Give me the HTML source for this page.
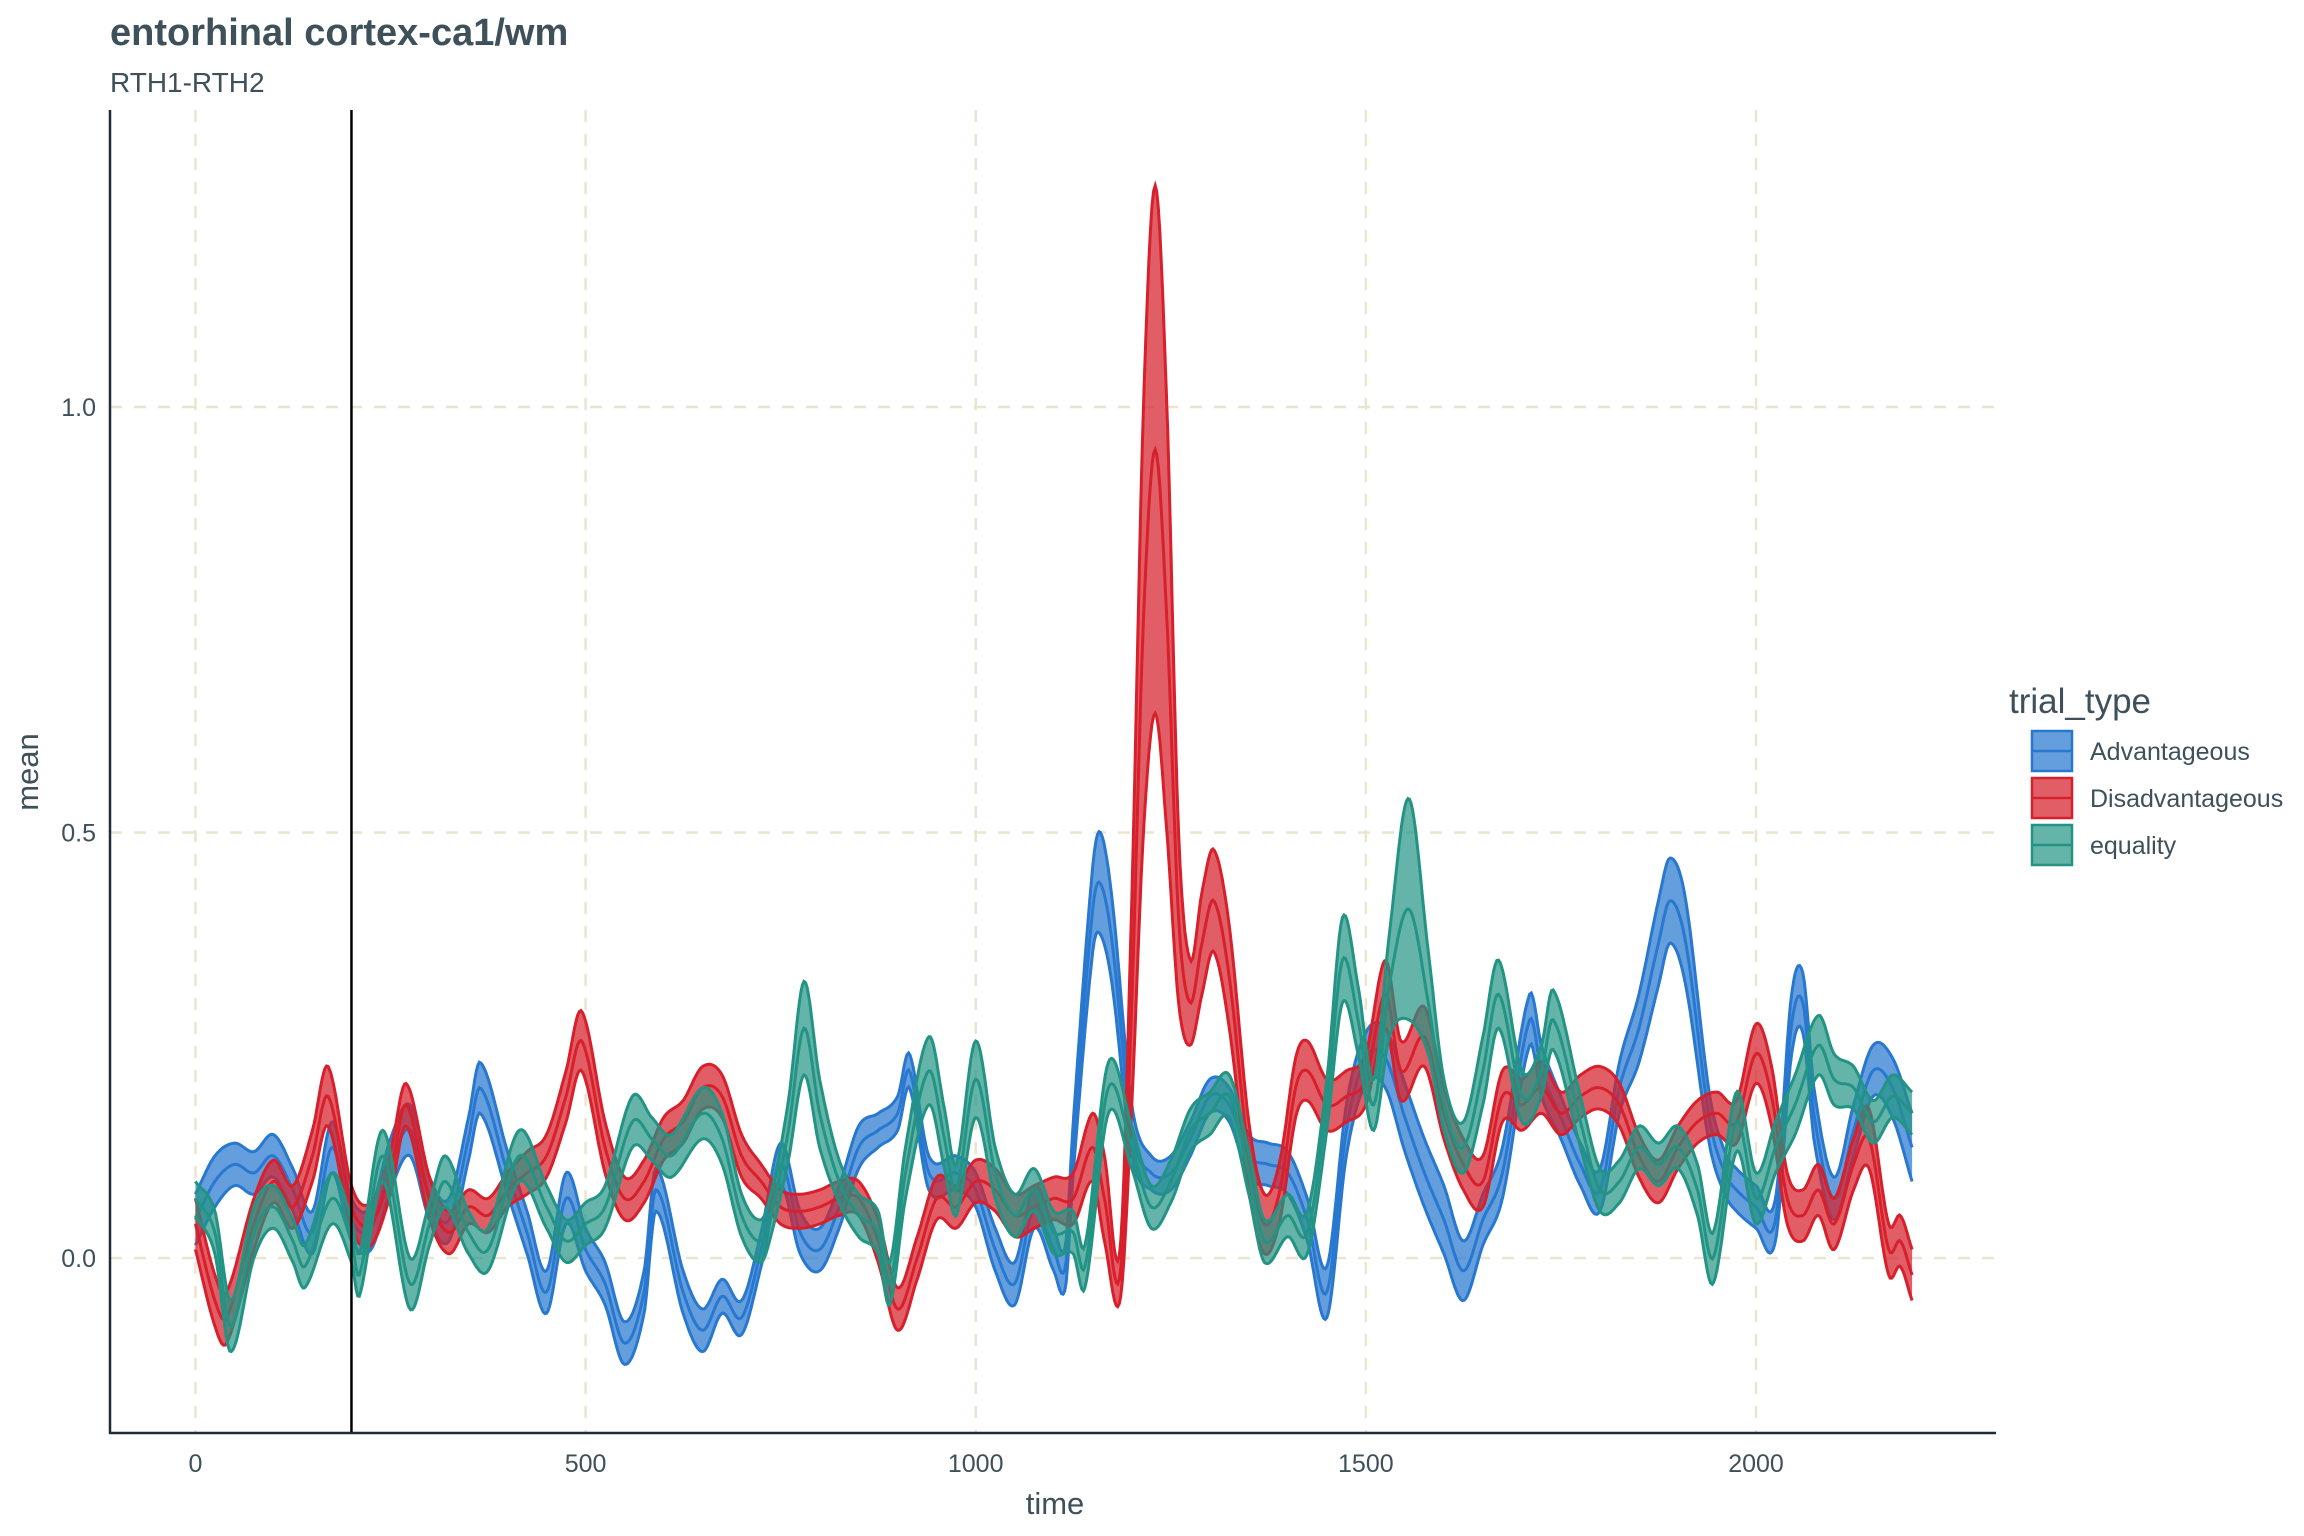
<!DOCTYPE html>
<html><head><meta charset="utf-8"><style>
body{margin:0;background:#fff;}
svg{display:block;font-family:"Liberation Sans",Arial,sans-serif;}
</style></head><body>
<svg id="chart" width="2304" height="1536" viewBox="0 0 2304 1536" xmlns="http://www.w3.org/2000/svg">
<text x="110" y="45" font-size="38" font-weight="bold" fill="#3e5059">entorhinal cortex-ca1/wm</text>
<text x="110" y="92" font-size="28" fill="#3e5059">RTH1-RTH2</text>
<g id="grid"></g>
<g id="series"></g>
<line id="vline" stroke="#000" stroke-width="2.5"/>
<line x1="110" y1="110" x2="110" y2="1434" stroke="#1e2e36" stroke-width="2.5"/>
<line x1="109" y1="1433" x2="1996" y2="1433" stroke="#1e2e36" stroke-width="2.5"/>
<g id="ticks"></g>
<text x="1055" y="1514" font-size="31" fill="#3e5059" text-anchor="middle">time</text>
<text transform="translate(38,772) rotate(-90)" font-size="31" fill="#3e5059" text-anchor="middle">mean</text>
<g>
<text x="2009" y="713" font-size="35" fill="#3e5059">trial_type</text>
<g>
<rect x="2032" y="731" width="40" height="40" fill="rgba(40,120,208,0.72)" stroke="#2878d0" stroke-width="2.5"/>
<line x1="2032" y1="751" x2="2072" y2="751" stroke="#2878d0" stroke-width="2.5"/>
<text x="2090" y="760" font-size="25" fill="#3e5059">Advantageous</text></g>
<g>
<rect x="2032" y="778" width="40" height="40" fill="rgba(215,32,43,0.72)" stroke="#d7202b" stroke-width="2.5"/>
<line x1="2032" y1="798" x2="2072" y2="798" stroke="#d7202b" stroke-width="2.5"/>
<text x="2090" y="807" font-size="25" fill="#3e5059">Disadvantageous</text></g>
<g>
<rect x="2032" y="825" width="40" height="40" fill="rgba(35,148,132,0.7)" stroke="#239484" stroke-width="2.5"/>
<line x1="2032" y1="845" x2="2072" y2="845" stroke="#239484" stroke-width="2.5"/>
<text x="2090" y="854" font-size="25" fill="#3e5059">equality</text></g>
</g>
</svg>
<script>
const xTicks=[0,500,1000,1500,2000];
const yTicks=[0,0.5,1.0];
const yTickLabels=["0.0","0.5","1.0"];
const eventTime=200;

const advT=[0,25,50,75,100,125,150,175,200,225,250,275,300,325,350,365,400,425,450,475,500,525,550,575,590,625,650,675,700,725,750,775,800,825,850,875,900,915,940,975,1000,1025,1050,1075,1100,1115,1125,1150,1160,1175,1200,1225,1250,1275,1300,1325,1350,1375,1400,1425,1450,1475,1500,1525,1550,1575,1600,1625,1650,1675,1710,1725,1750,1775,1800,1825,1850,1875,1890,1910,1940,1960,1975,2000,2025,2045,2060,2075,2100,2125,2150,2175,2200];
const advMean=[0.045,0.09,0.11,0.10,0.12,0.08,0.03,0.13,0.045,0.035,0.11,0.15,0.07,0.045,0.14,0.20,0.10,0.03,-0.04,0.07,0.01,-0.03,-0.10,-0.04,0.08,-0.04,-0.085,-0.045,-0.07,0.01,0.11,0.03,0.01,0.06,0.13,0.15,0.17,0.22,0.10,0.10,0.08,0.01,-0.03,0.06,0.01,-0.01,0.13,0.41,0.44,0.37,0.15,0.10,0.10,0.14,0.19,0.18,0.12,0.11,0.10,0.045,-0.04,0.15,0.235,0.235,0.165,0.10,0.045,-0.015,0.045,0.10,0.28,0.22,0.165,0.11,0.08,0.20,0.27,0.37,0.42,0.37,0.165,0.10,0.08,0.06,0.045,0.27,0.30,0.165,0.07,0.15,0.22,0.20,0.13];
const advSe=[0.03,0.03,0.025,0.025,0.025,0.025,0.025,0.03,0.025,0.025,0.03,0.03,0.025,0.025,0.025,0.03,0.025,0.025,0.025,0.03,0.025,0.025,0.025,0.025,0.025,0.025,0.025,0.02,0.02,0.02,0.025,0.025,0.025,0.025,0.025,0.02,0.02,0.02,0.02,0.02,0.02,0.025,0.025,0.025,0.025,0.025,0.03,0.05,0.06,0.05,0.03,0.02,0.02,0.02,0.02,0.02,0.025,0.025,0.025,0.025,0.03,0.03,0.03,0.035,0.04,0.04,0.04,0.035,0.03,0.03,0.03,0.03,0.025,0.025,0.025,0.03,0.04,0.05,0.05,0.05,0.03,0.025,0.025,0.025,0.025,0.035,0.035,0.03,0.025,0.03,0.03,0.035,0.04];

const disT=[0,25,40,75,100,125,150,170,200,225,250,270,300,325,350,375,400,425,450,475,495,525,550,575,600,625,650,675,700,725,750,775,800,825,850,875,900,925,950,975,1000,1025,1050,1075,1100,1125,1150,1165,1185,1200,1215,1230,1245,1260,1275,1290,1305,1325,1350,1370,1390,1410,1425,1450,1475,1500,1525,1545,1575,1600,1625,1650,1675,1700,1725,1750,1775,1800,1825,1850,1875,1900,1925,1950,1975,2000,2020,2040,2060,2080,2100,2125,2145,2170,2185,2200];
const disMean=[0.04,-0.05,-0.07,0.04,0.09,0.06,0.12,0.19,0.06,0.04,0.10,0.18,0.07,0.03,0.06,0.05,0.08,0.10,0.12,0.19,0.255,0.13,0.07,0.09,0.14,0.16,0.20,0.19,0.12,0.09,0.06,0.055,0.06,0.07,0.07,0.02,-0.06,0.0,0.07,0.06,0.09,0.08,0.05,0.06,0.07,0.07,0.13,0.07,-0.02,0.30,0.75,0.95,0.75,0.40,0.30,0.37,0.42,0.33,0.12,0.04,0.08,0.20,0.22,0.18,0.19,0.21,0.31,0.22,0.26,0.17,0.11,0.09,0.19,0.18,0.20,0.17,0.19,0.20,0.18,0.12,0.09,0.13,0.16,0.17,0.16,0.24,0.19,0.07,0.05,0.08,0.04,0.11,0.14,0.01,0.02,-0.02];
const disSe=[0.03,0.03,0.03,0.03,0.025,0.025,0.03,0.035,0.025,0.025,0.025,0.025,0.025,0.025,0.02,0.02,0.02,0.025,0.025,0.03,0.035,0.03,0.025,0.025,0.025,0.025,0.025,0.025,0.025,0.02,0.02,0.02,0.02,0.02,0.02,0.025,0.025,0.025,0.025,0.025,0.025,0.025,0.025,0.025,0.025,0.03,0.04,0.05,0.03,0.12,0.25,0.31,0.25,0.10,0.05,0.06,0.06,0.06,0.04,0.035,0.035,0.035,0.035,0.03,0.03,0.03,0.04,0.035,0.035,0.03,0.03,0.03,0.03,0.03,0.03,0.025,0.025,0.025,0.025,0.025,0.025,0.025,0.025,0.025,0.025,0.035,0.035,0.03,0.03,0.03,0.03,0.03,0.035,0.03,0.03,0.03];

const eqT=[0,25,45,75,100,125,140,175,200,210,240,275,300,320,350,375,415,450,475,500,525,560,585,610,650,675,700,725,740,760,780,800,825,850,875,890,910,940,960,975,1000,1025,1050,1075,1100,1125,1140,1170,1200,1225,1250,1275,1300,1325,1350,1370,1400,1425,1450,1470,1490,1510,1530,1555,1580,1600,1625,1650,1670,1700,1725,1740,1775,1800,1825,1850,1875,1900,1925,1945,1975,2000,2025,2050,2080,2100,2125,2150,2175,2200];
const eqMean=[0.07,0.03,-0.08,0.03,0.06,0.02,-0.01,0.07,0.02,-0.02,0.12,-0.03,0.04,0.09,0.03,0.01,0.12,0.06,0.02,0.04,0.06,0.16,0.14,0.12,0.17,0.14,0.05,0.02,0.06,0.15,0.27,0.17,0.09,0.05,0.03,-0.03,0.10,0.22,0.14,0.08,0.21,0.10,0.05,0.08,0.03,0.03,-0.01,0.20,0.13,0.06,0.09,0.15,0.17,0.19,0.10,0.02,0.05,0.03,0.18,0.35,0.28,0.18,0.32,0.41,0.30,0.18,0.13,0.22,0.31,0.19,0.22,0.28,0.16,0.08,0.09,0.13,0.11,0.13,0.08,0.0,0.16,0.07,0.13,0.18,0.25,0.21,0.20,0.16,0.19,0.17];
const eqSe=[0.02,0.025,0.03,0.03,0.025,0.025,0.025,0.03,0.025,0.025,0.03,0.03,0.025,0.03,0.025,0.025,0.03,0.025,0.025,0.025,0.025,0.03,0.025,0.025,0.03,0.03,0.025,0.025,0.025,0.035,0.055,0.04,0.025,0.025,0.025,0.025,0.03,0.04,0.035,0.03,0.045,0.03,0.025,0.025,0.025,0.025,0.025,0.03,0.025,0.025,0.025,0.025,0.025,0.025,0.025,0.025,0.025,0.025,0.03,0.05,0.04,0.03,0.06,0.13,0.06,0.03,0.03,0.04,0.04,0.03,0.03,0.035,0.03,0.025,0.025,0.025,0.025,0.025,0.03,0.03,0.035,0.03,0.03,0.035,0.035,0.03,0.025,0.025,0.025,0.025];

const NS="http://www.w3.org/2000/svg";
const X0=195.4, XS=0.7803, Y0=1258, YS=851;
function xScale(t){return X0+t*XS;}
function yScale(v){return Y0-v*YS;}

const grid=document.getElementById('grid');
xTicks.forEach(t=>{
  const l=document.createElementNS(NS,'line');
  
  
  l.setAttribute('x1',xScale(t));l.setAttribute('x2',xScale(t));
  l.setAttribute('y1',110);l.setAttribute('y2',1433);
  l.setAttribute('stroke','#ebe5cf');l.setAttribute('stroke-width','2.5');l.setAttribute('stroke-dasharray','12,12');
  grid.appendChild(l);
});
yTicks.forEach(v=>{
  const l=document.createElementNS(NS,'line');
  
  
  l.setAttribute('x1',110);l.setAttribute('x2',1996);
  l.setAttribute('y1',yScale(v));l.setAttribute('y2',yScale(v));
  l.setAttribute('stroke','#ebe5cf');l.setAttribute('stroke-width','2.5');l.setAttribute('stroke-dasharray','12,12');
  grid.appendChild(l);
});
const ticks=document.getElementById('ticks');
xTicks.forEach(t=>{
  const s=document.createElementNS(NS,'text');
  
  
  s.setAttribute('x',xScale(t));s.setAttribute('y',1472);
  s.setAttribute('font-size','25');s.setAttribute('fill','#3e5059');s.setAttribute('text-anchor','middle');
  s.textContent=String(t);ticks.appendChild(s);
});
yTicks.forEach((v,i)=>{
  const s=document.createElementNS(NS,'text');
  
  
  s.setAttribute('x',96);s.setAttribute('y',yScale(v)+9);
  s.setAttribute('font-size','25');s.setAttribute('fill','#3e5059');s.setAttribute('text-anchor','end');
  s.textContent=yTickLabels[i];ticks.appendChild(s);
});
const vl=document.getElementById('vline');
vl.setAttribute('x1',xScale(eventTime));vl.setAttribute('x2',xScale(eventTime));
vl.setAttribute('y1',110);vl.setAttribute('y2',1433);

function interp(T,V,t){
  let i=0;while(i<T.length-2&&t>T[i+1])i++;
  const t1=T[i],t2=T[i+1],u=(t-t1)/(t2-t1);
  const p0=V[Math.max(i-1,0)],p1=V[i],p2=V[i+1],p3=V[Math.min(i+2,V.length-1)];
  const t0=T[Math.max(i-1,0)],t3=T[Math.min(i+2,T.length-1)];
  const m1=(p2-p0)/Math.max(t2-t0,1)*(t2-t1), m2=(p3-p1)/Math.max(t3-t1,1)*(t2-t1);
  const u2=u*u,u3=u2*u;
  return (2*u3-3*u2+1)*p1+(u3-2*u2+u)*m1+(-2*u3+3*u2)*p2+(u3-u2)*m2;
}
function drawSeries(name,T,M,S,col,fill){
  const g=document.getElementById('series');
  const up=[],lo=[],mid=[];
  for(let t=T[0];t<=T[T.length-1];t+=2){
    const m=interp(T,M,t),s=Math.abs(interp(T,S,t));
    const x=xScale(t).toFixed(1);
    up.push(x+','+yScale(m+s).toFixed(1));
    lo.push(x+','+yScale(m-s).toFixed(1));
    mid.push(x+','+yScale(m).toFixed(1));
  }
  const band=document.createElementNS(NS,'polygon');
  
  
  band.setAttribute('points',up.concat(lo.slice().reverse()).join(' '));
  band.setAttribute('fill',fill);g.appendChild(band);
  [up,lo,mid].forEach((pts,k)=>{
    const p=document.createElementNS(NS,'polyline');
    
    
    p.setAttribute('points',pts.join(' '));
    p.setAttribute('fill','none');p.setAttribute('stroke',col);p.setAttribute('stroke-width','3');
    g.appendChild(p);
  });
}
drawSeries('advantageous',advT,advMean,advSe,'#2878d0','rgba(40,120,208,0.72)');
drawSeries('disadvantageous',disT,disMean,disSe,'#d7202b','rgba(215,32,43,0.72)');
drawSeries('equality',eqT,eqMean,eqSe,'#239484','rgba(35,148,132,0.7)');
</script>
</body></html>
